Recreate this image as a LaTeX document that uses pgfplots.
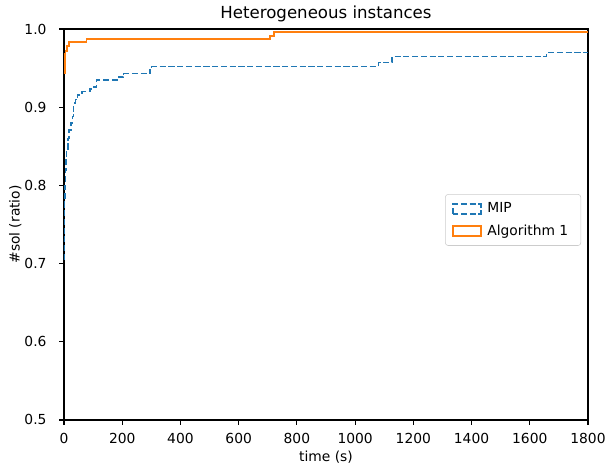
\documentclass[border=0pt]{standalone}
\usepackage{fontspec}
\setmainfont{DejaVu Sans}
\usepackage{pgfplots}
\pgfplotsset{compat=1.18}
\definecolor{mplblue}{HTML}{1F77B4}
\definecolor{mplorange}{HTML}{FF7F0E}

\begin{document}
\fontsize{10}{12}\selectfont
\begin{tikzpicture}
% picture frame: matplotlib figure cropped to 606x472 px (1 px = 0.72 bp)
\useasboundingbox (-46.08bp,-37.44bp) rectangle (390.26bp,302.38bp);
\begin{axis}[
  at={(0,0)}, anchor=south west,
  scale only axis,
  width=377.3bp,
  height=281.5bp,
  xmin=0, xmax=1800,
  ymin=0.5, ymax=1.0,
  xtick={0,200,400,600,800,1000,1200,1400,1600,1800},
  ytick={0.5,0.6,0.7,0.8,0.9,1.0},
  axis line style={line width=0.8bp},
  tick style={line width=0.8bp, black},
  tick align=outside,
  major tick length=3.5bp,
  xtick pos=bottom, ytick pos=left,
  ticklabel style={font=\fontsize{10}{12}\selectfont, /pgf/number format/assume math mode=true},
  yticklabel style={/pgf/number format/fixed, /pgf/number format/fixed zerofill, /pgf/number format/precision=1,
    anchor=east, inner sep=0pt, xshift=-8.9bp},
  xticklabel style={/pgf/number format/fixed, /pgf/number format/1000 sep={},
    anchor=base, inner sep=0pt, yshift=-13.2bp},
  title={Heterogeneous instances},
  every axis title shift=0pt,
  title style={font=\fontsize{12}{14}\selectfont, at={(0.5,1)}, anchor=base, inner sep=0pt, yshift=7.2bp},
  xlabel={time (s)},
  ylabel={\#sol (ratio)},
  label style={font=\fontsize{10}{12}\selectfont},
  xlabel style={at={(0.5,0)}, anchor=base, inner sep=0pt, yshift=-30.2bp},
  ylabel style={at={(0,0.5)}, anchor=base, inner sep=0pt, yshift=32bp},
  legend style={at={(1,0.5115)}, anchor=east, xshift=-5bp, draw=black!20, rounded corners=2bp,
    fill=white, fill opacity=0.8, text opacity=1, font=\fontsize{10}{12}\selectfont,
    inner xsep=5bp, inner ysep=4bp, row sep=3bp,
    nodes={inner xsep=4bp}},
  legend cell align=left,
  legend image code/.code={\draw[#1, sharp corners] (0bp,-3.5bp) rectangle (20bp,3.5bp);},
]
\addplot[const plot mark left, mplblue, line width=1.2bp, dash pattern=on 4.4bp off 1.9bp] coordinates {
(0.5,0.705) (1,0.73) (1.5,0.76) (2,0.78) (3,0.80) (5,0.82) (7,0.835) (9,0.845)
(13,0.86) (17,0.871) (23,0.880) (29,0.888) (33,0.905) (40,0.910) (46,0.916)
(61,0.920) (89,0.923) (101,0.926) (112,0.935) (187,0.939) (204,0.943)
(295,0.948) (301,0.952) (1080,0.957) (1127,0.965) (1658,0.970) (1800,0.970)
};
\addlegendentry{MIP}
\addplot[const plot mark left, mplorange, line width=1.2bp] coordinates {
(1.5,0.944) (3,0.968) (5,0.972) (10,0.978) (17,0.983) (77,0.987)
(708,0.991) (722,0.996) (1800,0.996)
};
\addlegendentry{Algorithm 1}
\end{axis}
\end{tikzpicture}
\end{document}
